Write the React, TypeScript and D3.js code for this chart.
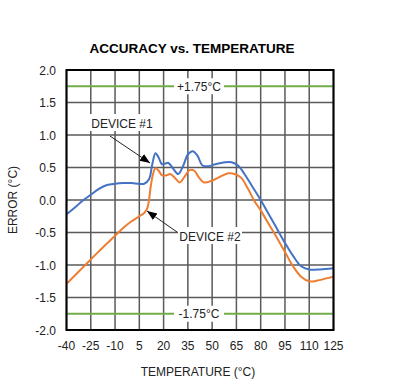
import React from "react";
import * as d3 from "d3";

const xTicks = [-40, -25, -10, 5, 20, 35, 50, 65, 80, 95, 110, 125];
const yTicks = [-2.0, -1.5, -1.0, -0.5, 0.0, 0.5, 1.0, 1.5, 2.0];
const limits = [1.75, -1.75];
const limitLabels = ["+1.75°C", "-1.75°C"];

const temp1 = [-40, -35, -30, -25, -20, -15, -10, -5, 0, 5, 8, 11, 13, 15, 17, 19, 21, 23, 26, 29, 32, 35, 38, 41, 44, 48, 52, 58, 62, 66, 70, 75, 80, 85, 90, 95, 100, 105, 110, 115, 120, 125];
const device1 = [-0.22, -0.12, -0.01, 0.08, 0.17, 0.23, 0.25, 0.26, 0.26, 0.25, 0.25, 0.32, 0.55, 0.72, 0.65, 0.55, 0.56, 0.57, 0.48, 0.4, 0.52, 0.7, 0.75, 0.68, 0.53, 0.52, 0.55, 0.58, 0.58, 0.53, 0.4, 0.2, 0.0, -0.22, -0.44, -0.66, -0.86, -1.02, -1.07, -1.07, -1.06, -1.05];

const temp2 = [-40, -30, -20, -10, -5, 0, 5, 8, 10, 11, 12, 13.5, 15, 17, 19, 22, 24, 27, 30, 33, 36, 39, 42, 45, 50, 55, 60, 64, 68, 72, 76, 80, 85, 90, 95, 100, 105, 110, 115, 120, 125];
const device2 = [-1.29, -1.04, -0.79, -0.55, -0.43, -0.33, -0.25, -0.2, -0.12, 0.0, 0.2, 0.4, 0.49, 0.45, 0.38, 0.38, 0.4, 0.34, 0.27, 0.36, 0.46, 0.45, 0.34, 0.27, 0.3, 0.36, 0.41, 0.4, 0.34, 0.18, -0.01, -0.16, -0.37, -0.58, -0.8, -1.02, -1.18, -1.25, -1.24, -1.21, -1.18];

const W = 400;
const H = 389;
const left = 66.5;
const right = 333.5;
const top = 70;
const bottom = 330;

const font = "'Liberation Sans', Arial, sans-serif";

export default function App() {
  const x = d3.scaleLinear().domain([-40, 125]).range([left, right]);
  const y = d3.scaleLinear().domain([-2, 2]).range([bottom, top]);

  const line = d3
    .line<[number, number]>()
    .x((d) => x(d[0]))
    .y((d) => y(d[1]))
    .curve(d3.curveCatmullRom.alpha(0.5));

  const d1 = line(temp1.map((t, i) => [t, device1[i]]));
  const d2 = line(temp2.map((t, i) => [t, device2[i]]));

  const gridColor = "#5a5a5a";

  return (
    <svg
      width={W}
      height={H}
      style={{ position: "absolute", left: 0, top: 0, background: "#fff" }}
      fontFamily={font}
    >
      <text x={192} y={53} textAnchor="middle" fontSize={13.5} fontWeight="bold">
        ACCURACY vs. TEMPERATURE
      </text>

      {/* grid */}
      {xTicks.map((t) => (
        <line key={"gx" + t} x1={x(t)} x2={x(t)} y1={top} y2={bottom} stroke={gridColor} strokeWidth={1.5} />
      ))}
      {yTicks.map((t) => (
        <line key={"gy" + t} x1={left} x2={right} y1={y(t)} y2={y(t)} stroke={gridColor} strokeWidth={1.5} />
      ))}

      {/* limit lines */}
      {limits.map((v, i) => (
        <g key={"lim" + i}>
          <rect x={174} y={y(v) - 8} width={50} height={16} fill="#fff" />
          <line x1={left} x2={174} y1={y(v)} y2={y(v)} stroke="#70AD47" strokeWidth={2} />
          <line x1={224} x2={right} y1={y(v)} y2={y(v)} stroke="#70AD47" strokeWidth={2} />
          <text x={199} y={y(v) + 4.5} textAnchor="middle" fontSize={12} fill="#222">
            {limitLabels[i]}
          </text>
        </g>
      ))}

      {/* curves */}
      <path d={d2 ?? ""} fill="none" stroke="#ED7D31" strokeWidth={2} />
      <path d={d1 ?? ""} fill="none" stroke="#4472C4" strokeWidth={2} />

      {/* annotations */}
      <defs>
        <marker id="ah" viewBox="0 0 10 10" refX={10} refY={5} markerWidth={10} markerHeight={10} orient="auto" markerUnits="userSpaceOnUse">
          <path d="M0,1 L10,5 L0,9 z" fill="#000" />
        </marker>
      </defs>
      <rect x={90} y={114} width={64} height={17} fill="#fff" />
      <text x={122} y={127.5} textAnchor="middle" fontSize={12} fill="#222">
        DEVICE #1
      </text>
      <line x1={110} y1={136} x2={150} y2={163} stroke="#222" strokeWidth={1} markerEnd="url(#ah)" />

      <rect x={178} y={227} width={64} height={17} fill="#fff" />
      <text x={210} y={240.5} textAnchor="middle" fontSize={12} fill="#222">
        DEVICE #2
      </text>
      <line x1={177} y1={232} x2={147} y2={211} stroke="#222" strokeWidth={1} markerEnd="url(#ah)" />

      {/* frame */}
      <rect x={left} y={top} width={right - left} height={bottom - top} fill="none" stroke="#000" strokeWidth={2} />

      {/* tick labels */}
      {yTicks.map((t) => (
        <text key={"yl" + t} x={56} y={y(t) + 4.5} textAnchor="end" fontSize={12} fill="#222">
          {t.toFixed(1)}
        </text>
      ))}
      {xTicks.map((t) => (
        <text key={"xl" + t} x={x(t)} y={350} textAnchor="middle" fontSize={12} fill="#222">
          {t}
        </text>
      ))}

      <text x={198} y={376} textAnchor="middle" fontSize={12} fill="#222">
        TEMPERATURE (°C)
      </text>
      <text transform={`translate(17,200) rotate(-90)`} textAnchor="middle" fontSize={12} fill="#222">
        ERROR (°C)
      </text>
    </svg>
  );
}
